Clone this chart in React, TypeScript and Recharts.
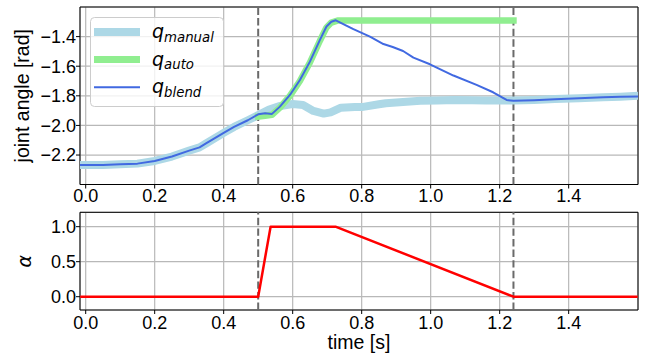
import React from 'react';
import { LineChart, Line, XAxis, YAxis, CartesianGrid, ReferenceLine, ReferenceArea, Legend } from 'recharts';

const timeTicks = [0, 0.2, 0.4, 0.6, 0.8, 1.0, 1.2, 1.4];
const angleTicks = [-2.2, -2.0, -1.8, -1.6, -1.4];
const alphaTicks = [0, 0.5, 1.0];
const switchTimes = [0.5, 1.24];
const timeDomain: [number, number] = [-0.0165, 1.601];
const angleDomain: [number, number] = [-2.399, -1.2];
const alphaDomain: [number, number] = [-0.19, 1.205];

const timeManual = [-0.016, 0.05, 0.1, 0.15, 0.2, 0.25, 0.3, 0.33, 0.35, 0.4, 0.43, 0.47, 0.5, 0.53, 0.56, 0.6, 0.63, 0.66, 0.69, 0.71, 0.74, 0.78, 0.8, 0.85, 0.87, 0.92, 0.97, 1.02, 1.07, 1.12, 1.16, 1.2, 1.24, 1.3, 1.36, 1.43, 1.5, 1.55, 1.6];
const qManual = [-2.268, -2.267, -2.263, -2.258, -2.24, -2.21, -2.17, -2.148, -2.12, -2.05, -2.01, -1.965, -1.93, -1.895, -1.87, -1.855, -1.862, -1.902, -1.92, -1.912, -1.88, -1.875, -1.876, -1.857, -1.85, -1.842, -1.834, -1.832, -1.828, -1.83, -1.832, -1.832, -1.832, -1.828, -1.821, -1.816, -1.81, -1.806, -1.8];

const timeAuto = [0.5, 0.52, 0.54, 0.563, 0.592, 0.621, 0.65, 0.679, 0.698, 0.712, 0.73, 0.8, 1.0, 1.24];
const qAuto = [-1.94, -1.935, -1.928, -1.88, -1.8, -1.7, -1.575, -1.428, -1.338, -1.305, -1.292, -1.292, -1.292, -1.292];

const timeBlend = [-0.016, 0.05, 0.1, 0.15, 0.2, 0.25, 0.3, 0.33, 0.35, 0.4, 0.43, 0.47, 0.5, 0.52, 0.54, 0.563, 0.592, 0.621, 0.65, 0.679, 0.698, 0.712, 0.725, 0.776, 0.824, 0.863, 0.89, 0.92, 0.95, 0.998, 1.066, 1.133, 1.181, 1.22, 1.24, 1.3, 1.36, 1.43, 1.5, 1.55, 1.6];
const qBlend = [-2.268, -2.267, -2.263, -2.258, -2.24, -2.21, -2.17, -2.148, -2.12, -2.05, -2.01, -1.965, -1.925, -1.918, -1.922, -1.873, -1.794, -1.693, -1.569, -1.422, -1.332, -1.3, -1.29, -1.35, -1.4, -1.45, -1.47, -1.497, -1.542, -1.587, -1.663, -1.726, -1.776, -1.828, -1.834, -1.83, -1.823, -1.817, -1.81, -1.807, -1.805];

const timeAlpha = [-0.016, 0.5, 0.536, 0.724, 1.24, 1.6];
const alphaValues = [0, 0, 1, 1, 0, 0];

const legendItems = [
  { name: 'manual', color: '#add8e6', width: 8 },
  { name: 'auto', color: '#90ee90', width: 7 },
  { name: 'blend', color: '#4169e1', width: 2 },
];

const manualData = timeManual.map((t, i) => ({ t, q: qManual[i] }));
const autoData = timeAuto.map((t, i) => ({ t, q: qAuto[i] }));
const blendData = timeBlend.map((t, i) => ({ t, q: qBlend[i] }));
const alphaData = timeAlpha.map((t, i) => ({ t, a: alphaValues[i] }));

const FONT = 'Liberation Sans';
const MATH = 'DejaVu Sans';
const fmt = (v: number) => v.toFixed(1).replace('-', '\u2212');
const tickStyle = { fontSize: 18, fill: '#000', fontFamily: FONT };

const LegendBox = () => (
  <svg width={134} height={90} style={{ display: 'block' }}>
    <rect x={0.5} y={0.5} width={133} height={89} rx={4} ry={4} fill="rgba(255,255,255,0.8)" stroke="#cccccc" strokeWidth={1} />
    {legendItems.map((it, i) => {
      const cy = 15 + i * 27.6;
      return (
        <g key={it.name}>
          <line x1={4} x2={50} y1={cy} y2={cy} stroke={it.color} strokeWidth={it.width} />
          <text x={62} y={cy + 6} fontFamily={MATH} fontSize={19} fontStyle="italic" fill="#000">
            q<tspan fontSize={13.3} dy={3.5}>{it.name}</tspan>
          </text>
        </g>
      );
    })}
  </svg>
);

const YLabel = (props: any) => {
  const vb = props.viewBox || {};
  const cy = vb.y + vb.height / 2;
  return (
    <text x={29.3} y={cy} transform={`rotate(-90 29.3 ${cy})`} textAnchor="middle" fontFamily={FONT} fontSize={19.5} fill="#000">
      {props.text}
    </text>
  );
};

const AlphaLabel = (props: any) => {
  const vb = props.viewBox || {};
  const cy = vb.y + vb.height / 2;
  return (
    <text x={30.7} y={cy} transform={`rotate(-90 30.7 ${cy})`} textAnchor="middle" fontFamily={MATH} fontSize={19} fontStyle="italic" fill="#000">
      α
    </text>
  );
};

const XLabel = (props: any) => {
  const vb = props.viewBox || {};
  return (
    <text x={vb.x + vb.width / 2} y={149.3} textAnchor="middle" fontFamily={FONT} fontSize={19.5} fill="#000">
      time [s]
    </text>
  );
};

export default function App() {
  return (
    <div style={{ position: 'absolute', left: 0, top: 0, width: 648, height: 356, background: '#fff', fontFamily: FONT }}>
      <div style={{ position: 'absolute', left: 0, top: 0 }}>
        <LineChart width={648} height={212} margin={{ top: 7, right: 10, left: 20, bottom: 0 }}>
          <CartesianGrid stroke="#b8b8b8" strokeWidth={1.2} />
          <XAxis
            type="number"
            dataKey="t"
            domain={timeDomain}
            ticks={timeTicks}
            allowDataOverflow
            height={27.5}
            tickFormatter={(v: number) => v.toFixed(1)}
            tick={tickStyle}
            tickSize={4}
            tickMargin={1}
            axisLine={false}
            tickLine={{ stroke: '#000' }}
            interval={0}
          />
          <YAxis
            type="number"
            dataKey="q"
            domain={angleDomain}
            ticks={angleTicks}
            allowDataOverflow
            width={60}
            tickFormatter={fmt}
            tick={tickStyle}
            tickSize={4}
            tickMargin={0}
            axisLine={false}
            tickLine={{ stroke: '#000' }}
            interval={0}
            label={<YLabel text="joint angle [rad]" />}
          />
          {switchTimes.map((s) => (
            <ReferenceLine key={s} x={s} stroke="#6a6a6a" strokeWidth={2} strokeDasharray="7.4 3.2" />
          ))}
          <Line data={manualData} dataKey="q" type="linear" stroke="#add8e6" strokeWidth={8} dot={false} isAnimationActive={false} strokeLinecap="square" strokeLinejoin="round" />
          <Line data={autoData} dataKey="q" type="linear" stroke="#90ee90" strokeWidth={6.5} dot={false} isAnimationActive={false} strokeLinecap="square" strokeLinejoin="round" />
          <Line data={blendData} dataKey="q" type="linear" stroke="#4169e1" strokeWidth={2} dot={false} isAnimationActive={false} strokeLinecap="square" strokeLinejoin="round" />
          <ReferenceArea x1={timeDomain[0]} x2={timeDomain[1]} y1={angleDomain[0]} y2={angleDomain[1]} fill="none" stroke="#000" strokeWidth={1} ifOverflow="visible" />
          <Legend
            layout="vertical"
            align="center"
            verticalAlign="middle"
            content={() => <LegendBox />}
            wrapperStyle={{ position: 'absolute', left: 90, top: 17, width: 134, height: 90 }}
          />
        </LineChart>
      </div>
      <div style={{ position: 'absolute', left: 0, top: 200 }}>
        <LineChart width={648} height={156} margin={{ top: 12.3, right: 10, left: 20, bottom: 0 }}>
          <CartesianGrid stroke="#b8b8b8" strokeWidth={1.2} />
          <XAxis
            type="number"
            dataKey="t"
            domain={timeDomain}
            ticks={timeTicks}
            allowDataOverflow
            height={46}
            tickFormatter={(v: number) => v.toFixed(1)}
            tick={tickStyle}
            tickSize={4}
            tickMargin={2}
            axisLine={false}
            tickLine={{ stroke: '#000' }}
            interval={0}
            label={<XLabel />}
          />
          <YAxis
            type="number"
            dataKey="a"
            domain={alphaDomain}
            ticks={alphaTicks}
            allowDataOverflow
            width={60}
            tickFormatter={fmt}
            tick={tickStyle}
            tickSize={4}
            tickMargin={0}
            axisLine={false}
            tickLine={{ stroke: '#000' }}
            interval={0}
            label={<AlphaLabel />}
          />
          {switchTimes.map((s) => (
            <ReferenceLine key={s} x={s} stroke="#6a6a6a" strokeWidth={2} strokeDasharray="7.4 3.2" />
          ))}
          <Line data={alphaData} dataKey="a" type="linear" stroke="#ff0000" strokeWidth={2.5} dot={false} isAnimationActive={false} strokeLinejoin="round" />
          <ReferenceArea x1={timeDomain[0]} x2={timeDomain[1]} y1={alphaDomain[0]} y2={alphaDomain[1]} fill="none" stroke="#000" strokeWidth={1} ifOverflow="visible" />
        </LineChart>
      </div>
    </div>
  );
}
